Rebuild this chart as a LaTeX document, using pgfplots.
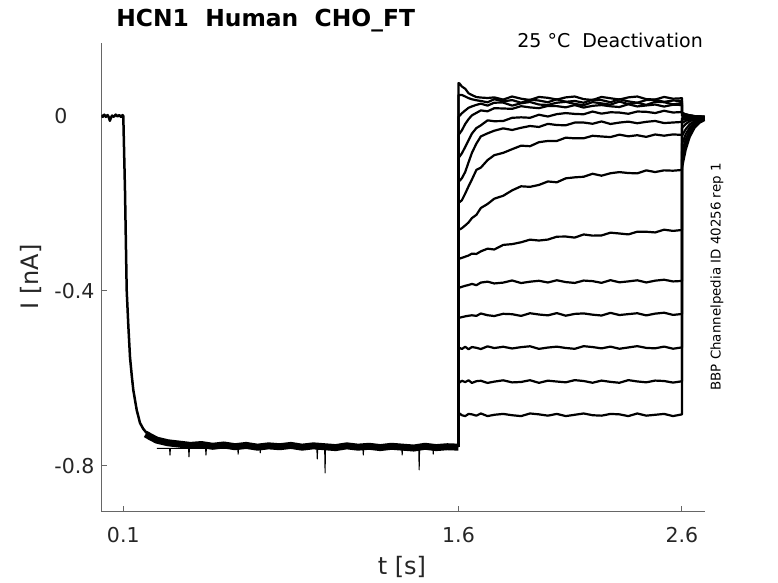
\documentclass[border=0pt]{standalone}
\usepackage{pgfplots}
\pgfplotsset{compat=1.18}
\usepackage{fontspec}
\setmainfont{DejaVu Sans}
\begin{document}
\begin{tikzpicture}
\useasboundingbox (0,0) rectangle (389pt,291.5pt);
\begin{axis}[
  at={(50.65pt,35.65pt)}, anchor=south west,
  scale only axis, width=301.85pt, height=234.5pt,
  xmin=0.0016, xmax=2.703, ymin=-0.9045, ymax=0.1675,
  axis lines*=left, axis line style={black!60, line width=0.5pt, -},
  tick align=inside, major tick length=3pt, tick style={black!60, line width=0.5pt},
  xtick={0.1,1.6,2.6}, xticklabels={0.1,1.6,2.6},
  ytick={-0.8,-0.4,0}, yticklabels={-0.8,-0.4,0},
  ticklabel style={font=\fontsize{10.25}{12}\selectfont, text=black!85},
  xticklabel style={yshift=-4.25pt},
  yticklabel style={anchor=west, xshift=-27pt},
  every axis plot/.append style={black, line join=round},
]
% baseline and activation decay (all sweeps overlap)
\addplot[line width=1.25pt] coordinates {(0.002,0.002) (0.008,-0.002) (0.015,0.003) (0.022,-0.002) (0.03,0.002) (0.036,-0.004) (0.04,-0.011) (0.044,-0.005) (0.05,0.001) (0.058,-0.002) (0.066,0.003) (0.074,-0.001) (0.082,0.002) (0.09,-0.002) (0.097,0.002) (0.1,0) (0.1076,-0.1691) (0.1152,-0.3977) (0.1224,-0.4777) (0.130,-0.5509) (0.1376,-0.592) (0.1448,-0.6263) (0.160,-0.672) (0.1748,-0.7017) (0.1896,-0.7154) (0.2048,-0.7246) (0.2196,-0.7291) (0.25,-0.736)};
% plateau band
\addplot[line width=3.5pt, line cap=butt] coordinates {(0.20,-0.727) (0.22,-0.733) (0.25,-0.741) (0.30,-0.747) (0.35,-0.750) (0.40,-0.753) (0.45,-0.751) (0.50,-0.755) (0.55,-0.752) (0.60,-0.756) (0.65,-0.753) (0.70,-0.757) (0.75,-0.754) (0.80,-0.756) (0.85,-0.753) (0.90,-0.757) (0.95,-0.754) (1.00,-0.756) (1.05,-0.758) (1.10,-0.754) (1.15,-0.757) (1.20,-0.755) (1.25,-0.758) (1.30,-0.755) (1.35,-0.757) (1.40,-0.759) (1.45,-0.755) (1.50,-0.758) (1.55,-0.756) (1.60,-0.757)};
% spikes
\addplot[line width=0.5pt] coordinates {(0.25,-0.760) (0.307,-0.760) (0.309,-0.775) (0.311,-0.760) (0.392,-0.760) (0.394,-0.779) (0.396,-0.760) (0.468,-0.760) (0.470,-0.775) (0.472,-0.760) (0.612,-0.760) (0.614,-0.773) (0.616,-0.760) (0.711,-0.760) (0.713,-0.770) (0.715,-0.760) (0.966,-0.760) (0.968,-0.784) (0.970,-0.760) (1.001,-0.760) (1.003,-0.816) (1.005,-0.760) (1.172,-0.760) (1.174,-0.775) (1.176,-0.760) (1.346,-0.760) (1.348,-0.775) (1.350,-0.760) (1.422,-0.760) (1.424,-0.809) (1.426,-0.760) (1.485,-0.760) (1.487,-0.773) (1.489,-0.760) (1.59,-0.760)};
% deactivation sweeps
\addplot[line width=1.1pt] coordinates {(1.6,-0.7566) (1.6,0.0754) (1.605,0.0740) (1.615,0.0674) (1.63,0.0622) (1.645,0.0519) (1.66,0.0478) (1.68,0.0432) (1.70,0.0421) (1.73,0.0411) (1.76,0.0425) (1.80,0.0375) (1.84,0.0445) (1.88,0.0395) (1.92,0.0365) (1.96,0.0435) (2.00,0.0415) (2.04,0.0375) (2.08,0.0425) (2.12,0.0445) (2.16,0.0385) (2.20,0.0365) (2.24,0.0435) (2.28,0.0405) (2.32,0.0375) (2.36,0.0425) (2.40,0.0445) (2.44,0.0385) (2.48,0.0375) (2.52,0.0435) (2.56,0.0395) (2.60,0.0405) (2.6,0.0069) (2.6165,0.0036) (2.6344,0.0013) (2.6567,-0.0004) (2.679,-0.0013) (2.7013,-0.0017)};
\addplot[line width=1.1pt] coordinates {(1.6,-0.7566) (1.6,0.0480) (1.605,0.0480) (1.615,0.0480) (1.63,0.0446) (1.645,0.0407) (1.66,0.0382) (1.68,0.0359) (1.70,0.0343) (1.73,0.0313) (1.76,0.0383) (1.80,0.0333) (1.84,0.0363) (1.88,0.0303) (1.92,0.0373) (1.96,0.0353) (2.00,0.0313) (2.04,0.0383) (2.08,0.0323) (2.12,0.0343) (2.16,0.0303) (2.20,0.0373) (2.24,0.0363) (2.28,0.0313) (2.32,0.0383) (2.36,0.0333) (2.40,0.0303) (2.44,0.0363) (2.48,0.0373) (2.52,0.0323) (2.56,0.0353) (2.60,0.0343) (2.6,0.0069) (2.6165,0.0036) (2.6344,0.0013) (2.6567,-0.0004) (2.679,-0.0013) (2.7013,-0.0017)};
\addplot[line width=1.1pt] coordinates {(1.6,-0.7566) (1.6,-0.0023) (1.605,0.0005) (1.615,0.0062) (1.63,0.0126) (1.645,0.0187) (1.66,0.0219) (1.68,0.0254) (1.70,0.0281) (1.73,0.0237) (1.76,0.0304) (1.80,0.0306) (1.84,0.0237) (1.88,0.0289) (1.92,0.0320) (1.96,0.0261) (2.00,0.0252) (2.04,0.0303) (2.08,0.0324) (2.12,0.0275) (2.16,0.0246) (2.20,0.0317) (2.24,0.0288) (2.28,0.0259) (2.32,0.0330) (2.36,0.0271) (2.40,0.0302) (2.44,0.0253) (2.48,0.0324) (2.52,0.0315) (2.56,0.0266) (2.60,0.0297) (2.6,0.0069) (2.6165,0.0036) (2.6344,0.0013) (2.6567,-0.0004) (2.679,-0.0013) (2.7013,-0.0017)};
\addplot[line width=1.1pt] coordinates {(1.6,-0.7566) (1.6,-0.0434) (1.605,-0.0400) (1.615,-0.0329) (1.63,-0.0183) (1.645,-0.0073) (1.66,0.0014) (1.68,0.0071) (1.70,0.0127) (1.73,0.0107) (1.76,0.0178) (1.80,0.0171) (1.84,0.0163) (1.88,0.0224) (1.92,0.0196) (1.96,0.0178) (2.00,0.0230) (2.04,0.0225) (2.08,0.0197) (2.12,0.0249) (2.16,0.0192) (2.20,0.0232) (2.24,0.0249) (2.28,0.0221) (2.32,0.0205) (2.36,0.0268) (2.40,0.0218) (2.44,0.0240) (2.48,0.0262) (2.52,0.0215) (2.56,0.0257) (2.60,0.0251) (2.6,0.0046) (2.6165,0.0021) (2.6344,0.0004) (2.6567,-0.0008) (2.679,-0.0015) (2.7013,-0.0019)};
\addplot[line width=1.1pt] coordinates {(1.6,-0.7566) (1.6,-0.0960) (1.605,-0.0926) (1.615,-0.0855) (1.63,-0.0709) (1.645,-0.0553) (1.66,-0.0402) (1.68,-0.0277) (1.70,-0.0214) (1.73,-0.0100) (1.76,-0.0120) (1.80,-0.0115) (1.84,-0.0042) (1.88,-0.0031) (1.92,-0.0041) (1.96,0.0028) (2.00,-0.0012) (2.04,0.0042) (2.08,0.0066) (2.12,0.0047) (2.16,0.0039) (2.20,0.0101) (2.24,0.0053) (2.28,0.0085) (2.32,0.0078) (2.36,0.0050) (2.40,0.0102) (2.44,0.0095) (2.48,0.0067) (2.52,0.0119) (2.56,0.0079) (2.60,0.0091) (2.6,0.0000) (2.6165,-0.0008) (2.6344,-0.0014) (2.6567,-0.0018) (2.679,-0.0021) (2.7013,-0.0021)};
\addplot[line width=1.1pt] coordinates {(1.6,-0.7566) (1.6,-0.1509) (1.605,-0.1481) (1.615,-0.1424) (1.63,-0.1280) (1.645,-0.1058) (1.66,-0.0843) (1.68,-0.0631) (1.70,-0.0467) (1.73,-0.0397) (1.76,-0.0337) (1.80,-0.0283) (1.84,-0.0320) (1.88,-0.0270) (1.92,-0.0229) (1.96,-0.0251) (2.00,-0.0180) (2.04,-0.0207) (2.08,-0.0213) (2.12,-0.0151) (2.16,-0.0150) (2.20,-0.0178) (2.24,-0.0125) (2.28,-0.0183) (2.32,-0.0151) (2.36,-0.0129) (2.40,-0.0166) (2.44,-0.0134) (2.48,-0.0114) (2.52,-0.0162) (2.56,-0.0149) (2.60,-0.0137) (2.6,-0.0046) (2.6165,-0.0038) (2.6344,-0.0032) (2.6567,-0.0027) (2.679,-0.0025) (2.7013,-0.0024)};
\addplot[line width=1.1pt] coordinates {(1.6,-0.7566) (1.6,-0.1989) (1.605,-0.1968) (1.615,-0.1927) (1.63,-0.1774) (1.645,-0.1607) (1.66,-0.1452) (1.68,-0.1233) (1.70,-0.1180) (1.73,-0.1009) (1.76,-0.0896) (1.80,-0.0843) (1.84,-0.0759) (1.88,-0.0679) (1.92,-0.0691) (1.96,-0.0599) (2.00,-0.0571) (2.04,-0.0571) (2.08,-0.0496) (2.12,-0.0511) (2.16,-0.0510) (2.20,-0.0453) (2.24,-0.0469) (2.28,-0.0482) (2.32,-0.0427) (2.36,-0.0465) (2.40,-0.0440) (2.44,-0.0478) (2.48,-0.0423) (2.52,-0.0451) (2.56,-0.0421) (2.60,-0.0434) (2.6,-0.0091) (2.6165,-0.0066) (2.6344,-0.0050) (2.6567,-0.0037) (2.679,-0.0030) (2.7013,-0.0027)};
\addplot[line width=1.1pt] coordinates {(1.6,-0.7566) (1.6,-0.2606) (1.605,-0.2594) (1.615,-0.2565) (1.63,-0.2503) (1.645,-0.2434) (1.66,-0.2334) (1.68,-0.2260) (1.70,-0.2103) (1.73,-0.2012) (1.76,-0.1891) (1.80,-0.1824) (1.84,-0.1700) (1.88,-0.1607) (1.92,-0.1620) (1.96,-0.1576) (2.00,-0.1497) (2.04,-0.1516) (2.08,-0.1425) (2.12,-0.1403) (2.16,-0.1389) (2.20,-0.1321) (2.24,-0.1365) (2.28,-0.1309) (2.32,-0.1283) (2.36,-0.1304) (2.40,-0.1312) (2.44,-0.1243) (2.48,-0.1282) (2.52,-0.1243) (2.56,-0.1251) (2.60,-0.1234) (2.6,-0.0160) (2.6165,-0.0112) (2.6344,-0.0078) (2.6567,-0.0053) (2.679,-0.0039) (2.7013,-0.0032)};
\addplot[line width=1.1pt] coordinates {(1.6,-0.7566) (1.6,-0.3269) (1.605,-0.3259) (1.615,-0.3243) (1.63,-0.3216) (1.645,-0.3189) (1.66,-0.3146) (1.68,-0.3154) (1.70,-0.3094) (1.73,-0.3033) (1.76,-0.3052) (1.80,-0.2947) (1.84,-0.2929) (1.88,-0.2887) (1.92,-0.2827) (1.96,-0.2847) (2.00,-0.2825) (2.04,-0.2759) (2.08,-0.2756) (2.12,-0.2780) (2.16,-0.2708) (2.20,-0.2735) (2.24,-0.2731) (2.28,-0.2667) (2.32,-0.2686) (2.36,-0.2707) (2.40,-0.2645) (2.44,-0.2646) (2.48,-0.2662) (2.52,-0.2599) (2.56,-0.2627) (2.60,-0.2606) (2.6,-0.0274) (2.6165,-0.0185) (2.6344,-0.0121) (2.6567,-0.0075) (2.679,-0.0050) (2.7013,-0.0039)};
\addplot[line width=1.1pt] coordinates {(1.6,-0.7566) (1.6,-0.3931) (1.605,-0.3922) (1.615,-0.3905) (1.63,-0.3882) (1.645,-0.3863) (1.66,-0.3838) (1.68,-0.3868) (1.70,-0.3808) (1.73,-0.3787) (1.76,-0.3828) (1.80,-0.3809) (1.84,-0.3760) (1.88,-0.3819) (1.92,-0.3788) (1.96,-0.3767) (2.00,-0.3806) (2.04,-0.3755) (2.08,-0.3797) (2.12,-0.3816) (2.16,-0.3762) (2.20,-0.3775) (2.24,-0.3814) (2.28,-0.3753) (2.32,-0.3802) (2.36,-0.3781) (2.40,-0.3756) (2.44,-0.3805) (2.48,-0.3764) (2.52,-0.3743) (2.56,-0.3782) (2.60,-0.3771) (2.6,-0.0457) (2.6165,-0.0304) (2.6344,-0.0192) (2.6567,-0.0114) (2.679,-0.0071) (2.7013,-0.0048)};
\addplot[line width=1.1pt] coordinates {(1.6,-0.7566) (1.6,-0.4617) (1.605,-0.4610) (1.615,-0.4598) (1.63,-0.4580) (1.645,-0.4566) (1.66,-0.4556) (1.68,-0.4569) (1.70,-0.4515) (1.73,-0.4554) (1.76,-0.4573) (1.80,-0.4522) (1.84,-0.4531) (1.88,-0.4570) (1.92,-0.4509) (1.96,-0.4538) (2.00,-0.4557) (2.04,-0.4506) (2.08,-0.4565) (2.12,-0.4524) (2.16,-0.4513) (2.20,-0.4542) (2.24,-0.4561) (2.28,-0.4500) (2.32,-0.4550) (2.36,-0.4529) (2.40,-0.4509) (2.44,-0.4558) (2.48,-0.4518) (2.52,-0.4497) (2.56,-0.4547) (2.60,-0.4526) (2.6,-0.0640) (2.6165,-0.0421) (2.6344,-0.0265) (2.6567,-0.0153) (2.679,-0.0091) (2.7013,-0.0059)};
\addplot[line width=1.1pt] coordinates {(1.6,-0.7566) (1.6,-0.5310) (1.605,-0.5299) (1.615,-0.5327) (1.63,-0.5275) (1.645,-0.5333) (1.66,-0.5281) (1.68,-0.5299) (1.70,-0.5327) (1.73,-0.5266) (1.76,-0.5305) (1.80,-0.5275) (1.84,-0.5314) (1.88,-0.5284) (1.92,-0.5264) (1.96,-0.5323) (2.00,-0.5293) (2.04,-0.5273) (2.08,-0.5303) (2.12,-0.5322) (2.16,-0.5262) (2.20,-0.5282) (2.24,-0.5312) (2.28,-0.5272) (2.32,-0.5321) (2.36,-0.5291) (2.40,-0.5261) (2.44,-0.5301) (2.48,-0.5311) (2.52,-0.5271) (2.56,-0.5320) (2.60,-0.5290) (2.6,-0.0823) (2.6165,-0.0539) (2.6344,-0.0336) (2.6567,-0.0191) (2.679,-0.0112) (2.7013,-0.0071)};
\addplot[line width=1.1pt] coordinates {(1.6,-0.7566) (1.6,-0.6080) (1.605,-0.6092) (1.615,-0.6052) (1.63,-0.6082) (1.645,-0.6042) (1.66,-0.6102) (1.68,-0.6062) (1.70,-0.6052) (1.73,-0.6102) (1.76,-0.6072) (1.80,-0.6042) (1.84,-0.6090) (1.88,-0.6080) (1.92,-0.6040) (1.96,-0.6100) (2.00,-0.6050) (2.04,-0.6070) (2.08,-0.6088) (2.12,-0.6038) (2.16,-0.6058) (2.20,-0.6098) (2.24,-0.6048) (2.28,-0.6078) (2.32,-0.6098) (2.36,-0.6038) (2.40,-0.6068) (2.44,-0.6088) (2.48,-0.6048) (2.52,-0.6058) (2.56,-0.6094) (2.60,-0.6064) (2.6,-0.1006) (2.6165,-0.0658) (2.6344,-0.0409) (2.6567,-0.0229) (2.679,-0.0133) (2.7013,-0.0082)};
\addplot[line width=1.1pt] coordinates {(1.6,-0.7566) (1.6,-0.6834) (1.605,-0.6800) (1.615,-0.6840) (1.63,-0.6860) (1.645,-0.6810) (1.66,-0.6820) (1.68,-0.6850) (1.70,-0.6800) (1.73,-0.6860) (1.76,-0.6830) (1.80,-0.6810) (1.84,-0.6840) (1.88,-0.6860) (1.92,-0.6800) (1.96,-0.6820) (2.00,-0.6850) (2.04,-0.6810) (2.08,-0.6860) (2.12,-0.6830) (2.16,-0.6800) (2.20,-0.6840) (2.24,-0.6850) (2.28,-0.6810) (2.32,-0.6820) (2.36,-0.6860) (2.40,-0.6800) (2.44,-0.6850) (2.48,-0.6830) (2.52,-0.6810) (2.56,-0.6860) (2.60,-0.6820) (2.6,-0.1189) (2.6165,-0.0775) (2.6344,-0.0480) (2.6567,-0.0267) (2.679,-0.0153) (2.7013,-0.0093)};
\end{axis}
\node[anchor=base west, inner sep=0pt, font=\fontsize{11.7}{14}\selectfont\bfseries] at (58pt,278.15pt) {HCN1\ \ Human\ \ CHO\_FT};
\node[anchor=base east, inner sep=0pt, font=\fontsize{9.5}{11}\selectfont] at (351.6pt,267.85pt) {25 °C\ \ Deactivation};
\node[rotate=90, inner sep=0pt, font=\fontsize{6.7}{8}\selectfont] at (358.5pt,153pt) {BBP Channelpedia ID 40256 rep 1};
\node[rotate=90, inner sep=0pt, font=\fontsize{12}{14}\selectfont, text=black!85] at (15.5pt,153pt) {I [nA]};
\node[inner sep=0pt, font=\fontsize{12}{14}\selectfont, text=black!85] at (201pt,8pt) {t [s]};
\end{tikzpicture}
\end{document}
